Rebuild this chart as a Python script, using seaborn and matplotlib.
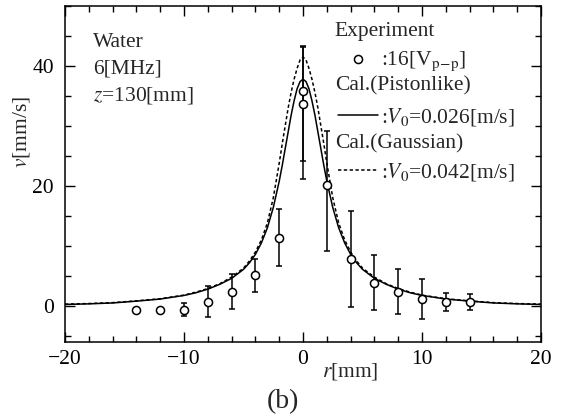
import numpy as np
import pandas as pd
import seaborn as sns
import matplotlib.pyplot as plt
from matplotlib.ticker import MultipleLocator

# measured points (r [mm], v [mm/s]) with lower / upper error
r_exp = [-14, -12, -10, -8, -6, -4, -2, 0, 0, 2, 4, 6, 8, 10, 12, 14]
v_exp = [-0.6, -0.7, -0.6, 0.7, 2.4, 5.1, 11.4, 35.9, 33.6, 20.2, 7.8, 3.9, 2.4, 1.2, 0.6, 0.6]
err_lo = [0, 0, 1.1, 2.6, 2.9, 2.8, 4.7, 14.7, 9.5, 11.0, 8.0, 4.6, 3.7, 3.3, 1.5, 1.35]
err_hi = [0, 0, 1.1, 2.6, 2.9, 2.8, 4.7, 7.4, 9.5, 9.0, 8.0, 4.6, 3.7, 3.3, 1.5, 1.35]

# calculated curves
r_cal = [-20, -18, -16, -14, -12, -10, -9, -8, -7, -6, -5, -4.5, -4, -3.5, -3, -2.5,
         -2, -1.75, -1.5, -1.25, -1, -0.75, -0.5, -0.25, 0,
         0.25, 0.5, 0.75, 1, 1.25, 1.5, 1.75, 2, 2.5, 3, 3.5, 4, 4.5, 5, 6, 7, 8,
         9, 10, 12, 14, 16, 18, 20]
v_piston = [0.25, 0.35, 0.5, 0.8, 1.15, 1.75, 2.2, 2.8, 3.6, 4.6, 6.1, 7.2, 8.6, 10.5, 13.0, 16.4,
            20.8, 23.4, 26.2, 29.0, 31.8, 34.2, 36.2, 37.4, 37.8,
            37.4, 36.2, 34.2, 31.8, 29.0, 26.2, 23.4, 20.8, 16.4, 13.0, 10.5, 8.6, 7.2, 6.1, 4.6, 3.6, 2.8,
            2.2, 1.75, 1.15, 0.8, 0.5, 0.35, 0.25]
v_gauss = [0.3, 0.4, 0.55, 0.85, 1.2, 1.8, 2.3, 2.9, 3.7, 4.8, 6.3, 7.5, 9.0, 11.0, 13.8, 18.0,
           23.8, 27.0, 30.0, 33.0, 35.6, 37.8, 39.6, 41.0, 41.5,
           41.0, 39.6, 37.8, 35.6, 33.0, 30.0, 27.0, 23.8, 18.0, 13.8, 11.0, 9.0, 7.5, 6.3, 4.8, 3.7, 2.9,
           2.3, 1.8, 1.2, 0.85, 0.55, 0.4, 0.3]

sns.set_theme(style='ticks')
plt.rcParams['font.family'] = ['Liberation Serif', 'DejaVu Serif']
plt.rcParams['mathtext.fontset'] = 'stix'

FS = 15.5

fig = plt.figure(figsize=(5.62, 4.17), dpi=100)
ax = fig.add_axes([0.1157, 0.18, 0.847, 0.8056])

cal = pd.DataFrame({'r': r_cal, 'piston': v_piston, 'gauss': v_gauss})
exp = pd.DataFrame({'r': r_exp, 'v': v_exp})

sns.lineplot(data=cal, x='r', y='piston', color='black', lw=1.1, ax=ax,
             label=r':$V_{\mathit{0}}$=0.026[m/s]')
sns.lineplot(data=cal, x='r', y='gauss', color='black', lw=1.1, ax=ax,
             linestyle=(0, (2.2, 1.6)), label=r':$V_{\mathit{0}}$=0.042[m/s]')
ax.errorbar(r_exp, v_exp, yerr=[err_lo, err_hi], fmt='none', ecolor='black',
            elinewidth=1.1, capsize=2.5, capthick=1.1, zorder=4)
sns.scatterplot(data=exp, x='r', y='v', marker='o', s=34, facecolor='white',
                edgecolor='black', linewidth=1.1, zorder=5, ax=ax,
                label=r':16[V$_{\mathrm{p\!-\!p}}$]')

handles, labels = ax.get_legend_handles_labels()
order = [2, 0, 1]
ax.legend([handles[i] for i in order], [labels[i] for i in order],
          loc='upper left', bbox_to_anchor=(0.574, 0.872), frameon=False,
          fontsize=FS, handlelength=1.86, handletextpad=0.12,
          labelspacing=1.55, borderpad=0, borderaxespad=0)

ax.text(0.567, 0.911, 'Experiment', transform=ax.transAxes, fontsize=FS, va='baseline')
ax.text(0.567, 0.75, 'Cal.(Pistonlike)', transform=ax.transAxes, fontsize=FS, va='baseline')
ax.text(0.567, 0.577, 'Cal.(Gaussian)', transform=ax.transAxes, fontsize=FS, va='baseline')

ax.text(0.058, 0.878, 'Water', transform=ax.transAxes, fontsize=FS, va='baseline')
ax.text(0.058, 0.80, '6[MHz]', transform=ax.transAxes, fontsize=FS, va='baseline')
ax.text(0.058, 0.72, '$z$=130[mm]', transform=ax.transAxes, fontsize=FS, va='baseline')

ax.set_xlim(-20, 20)
ax.set_ylim(-6, 50)
ax.xaxis.set_major_locator(MultipleLocator(10))
ax.xaxis.set_minor_locator(MultipleLocator(2))
ax.yaxis.set_major_locator(MultipleLocator(20))
ax.yaxis.set_minor_locator(MultipleLocator(5))
ax.tick_params(which='both', direction='in', top=True, right=True, width=1.0,
               colors='black', labelsize=15.5)
ax.tick_params(which='major', length=7.5)
ax.tick_params(which='minor', length=4.5)
ax.tick_params(axis='y', pad=8)
ax.tick_params(axis='x', pad=6)
for s in ax.spines.values():
    s.set_linewidth(1.1)
    s.set_color('black')

ax.set_xlabel('')
ax.set_ylabel('')
fig.text(0.623, 0.098, '$r$[mm]', fontsize=15.5, ha='center', va='baseline')
fig.text(0.039, 0.683, '$v$[mm/s]', fontsize=15.5, rotation=90, ha='center', va='center')
fig.text(0.503, 0.036, '(b)', fontsize=20, ha='center', va='center')

fig.savefig('out.png', dpi=100)
